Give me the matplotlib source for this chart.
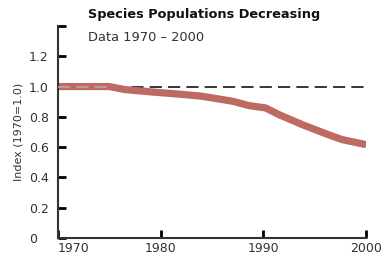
import matplotlib
matplotlib.use("Agg")
import matplotlib.pyplot as plt

years = [1970, 1975, 1976.5, 1979, 1982.3, 1984, 1987, 1988.6, 1990.2, 1991.5, 1993.8, 1996.4, 1997.7, 2000]
index = [1.0, 1.0, 0.98, 0.965, 0.947, 0.936, 0.903, 0.874, 0.859, 0.815, 0.748, 0.68, 0.649, 0.616]

y_ticks = [0, 0.2, 0.4, 0.6, 0.8, 1.0, 1.2, 1.4]
y_labels = ["0", "0.2", "0.4", "0.6", "0.8", "1.0", "1.2", ""]
x_ticks = [1970, 1980, 1990, 2000]
x_labels = ["1970", "1980", "1990", "2000"]

fig = plt.figure(figsize=(3.81, 2.57), dpi=100)
ax = fig.add_axes([0.152, 0.074, 0.809, 0.825])

ax.plot(years, index, color="#bc6a62", lw=5.2, solid_capstyle="butt", zorder=2)
# baseline at 1.0 (light where it crosses the red line)
ax.axhline(1.0, color="black", lw=1.1, ls=(0, (8, 4)), zorder=1)
ax.plot([1970, 1975], [1.0, 1.0], color="#b0b0b0", lw=1.1, ls=(0, (8, 4)), zorder=3)

ax.set_xlim(1970, 2000)
ax.set_ylim(0, 1.4)
for s in ["top", "right"]:
    ax.spines[s].set_visible(False)
for s in ["left", "bottom"]:
    ax.spines[s].set_color("#333333")
    ax.spines[s].set_linewidth(1.5)

ax.set_yticks(y_ticks)
ax.set_yticklabels(y_labels, fontsize=9, ha="left")
ax.tick_params(axis="y", direction="in", length=6, width=2, pad=21, colors="black", labelcolor="#333333")
ax.set_xticks(x_ticks)
ax.set_xticklabels(x_labels, fontsize=9)
ax.get_xticklabels()[0].set_ha("left")
ax.tick_params(axis="x", direction="in", length=6, width=2, pad=3, colors="black", labelcolor="#333333")

ax.set_ylabel("Index (1970=1.0)", fontsize=8, color="#333333", labelpad=4)

fig.text(0.231, 0.93, "Species Populations Decreasing", fontsize=9.3, fontweight="bold", color="#111111")
fig.text(0.231, 0.84, "Data 1970 \u2013 2000", fontsize=9.4, color="#333333")

fig.savefig("out.png", dpi=100)
